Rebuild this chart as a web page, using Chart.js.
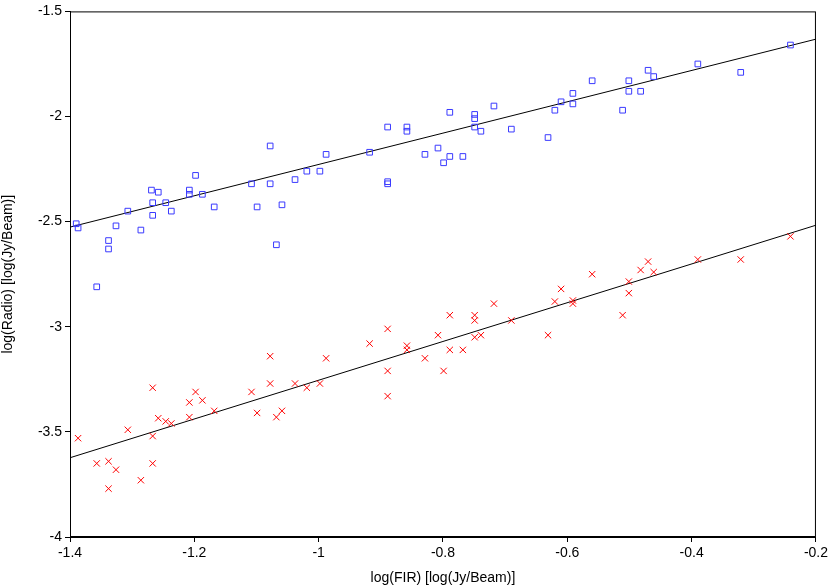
<!DOCTYPE html>
<html><head><meta charset="utf-8">
<script src="https://cdn.jsdelivr.net/npm/chart.js@4"></script>
<style>html,body{margin:0;padding:0;background:#fff}#w{width:831px;height:587px}</style>
</head><body><div id="w"><canvas id="c"></canvas></div>
<script>
const blueX=[-1.39,-1.387,-1.357,-1.338,-1.338,-1.326,-1.307,-1.286,-1.269,-1.267,-1.267,-1.258,-1.246,-1.237,-1.208,-1.208,-1.198,-1.187,-1.168,-1.108,-1.099,-1.078,-1.078,-1.068,-1.059,-1.038,-1.019,-0.998,-0.988,-0.918,-0.889,-0.889,-0.889,-0.858,-0.858,-0.829,-0.808,-0.799,-0.789,-0.789,-0.768,-0.749,-0.749,-0.749,-0.739,-0.718,-0.69,-0.631,-0.62,-0.61,-0.591,-0.591,-0.56,-0.511,-0.501,-0.501,-0.482,-0.47,-0.461,-0.39,-0.321,-0.241];
const blueY=[-2.51,-2.53,-2.81,-2.59,-2.63,-2.52,-2.45,-2.54,-2.35,-2.41,-2.47,-2.36,-2.41,-2.45,-2.35,-2.37,-2.28,-2.37,-2.43,-2.32,-2.43,-2.14,-2.32,-2.61,-2.42,-2.30,-2.26,-2.26,-2.18,-2.17,-2.05,-2.31,-2.32,-2.05,-2.07,-2.18,-2.15,-2.22,-1.98,-2.19,-2.19,-1.99,-2.01,-2.05,-2.07,-1.95,-2.06,-2.10,-1.97,-1.93,-1.89,-1.94,-1.83,-1.97,-1.83,-1.88,-1.88,-1.78,-1.81,-1.75,-1.79,-1.66];
const redX=[-1.387,-1.357,-1.338,-1.338,-1.326,-1.307,-1.286,-1.267,-1.267,-1.267,-1.258,-1.246,-1.237,-1.208,-1.208,-1.198,-1.187,-1.168,-1.108,-1.099,-1.078,-1.078,-1.068,-1.059,-1.038,-1.019,-0.998,-0.988,-0.918,-0.889,-0.889,-0.889,-0.858,-0.858,-0.829,-0.808,-0.799,-0.789,-0.789,-0.768,-0.749,-0.749,-0.749,-0.739,-0.718,-0.69,-0.631,-0.62,-0.61,-0.591,-0.591,-0.56,-0.511,-0.501,-0.501,-0.482,-0.47,-0.461,-0.39,-0.321,-0.241];
const redY=[-3.53,-3.65,-3.64,-3.77,-3.68,-3.49,-3.73,-3.29,-3.52,-3.65,-3.435,-3.45,-3.46,-3.36,-3.43,-3.31,-3.35,-3.40,-3.31,-3.41,-3.14,-3.27,-3.43,-3.40,-3.27,-3.29,-3.27,-3.15,-3.08,-3.01,-3.21,-3.33,-3.09,-3.11,-3.15,-3.04,-3.21,-2.945,-3.11,-3.11,-2.945,-2.97,-3.05,-3.04,-2.89,-2.97,-3.04,-2.88,-2.82,-2.875,-2.89,-2.75,-2.945,-2.785,-2.84,-2.73,-2.69,-2.74,-2.68,-2.68,-2.57];
const blueFitX=[-1.4,-0.2], blueFitY=[-2.526,-1.632];
const redFitX=[-1.4,-0.2], redFitY=[-3.623,-2.517];
const pts=(xs,ys)=>xs.map((x,i)=>({x,y:ys[i]}));
const frame={id:'frame',afterDraw(c){const a=c.chartArea,g=c.ctx;g.save();g.strokeStyle='#000';g.lineWidth=1;g.strokeRect(a.left+0.5,a.top+0.5,a.width-1,a.height-1);g.restore();}};
new Chart(document.getElementById('c'),{
type:'scatter',
data:{datasets:[
{data:pts(blueX,blueY),pointStyle:'rect',radius:4,borderColor:'#3a3aff',backgroundColor:'transparent',borderWidth:1},
{data:pts(redX,redY),pointStyle:'crossRot',radius:4.5,borderColor:'#ff0000',borderWidth:1},
{type:'line',data:pts(blueFitX,blueFitY),borderColor:'#000',borderWidth:1,pointRadius:0},
{type:'line',data:pts(redFitX,redFitY),borderColor:'#000',borderWidth:1,pointRadius:0}
]},
options:{responsive:true,maintainAspectRatio:false,animation:false,
layout:{padding:{left:0,right:12,top:6,bottom:0}},
plugins:{legend:{display:false},tooltip:{enabled:false}},
scales:{
x:{type:'linear',min:-1.4,max:-0.2,border:{color:'#000'},grid:{drawOnChartArea:false,color:'#000',tickLength:5},
 ticks:{stepSize:0.2,color:'#000',font:{family:'Liberation Sans',size:14},callback:v=>String(Math.round(v*10)/10)},
 title:{display:true,text:'log(FIR) [log(Jy/Beam)]',color:'#000',font:{family:'Liberation Sans',size:14},padding:0},
 afterFit(s){s.height=50;}},
y:{type:'linear',min:-4,max:-1.5,border:{color:'#000'},grid:{drawOnChartArea:false,color:'#000',tickLength:5},
 ticks:{stepSize:0.5,color:'#000',font:{family:'Liberation Sans',size:14},callback:v=>String(Math.round(v*10)/10)},
 title:{display:true,text:'log(Radio) [log(Jy/Beam)]',color:'#000',font:{family:'Liberation Sans',size:14},padding:0},
 afterFit(s){s.width=70;}}
}},
plugins:[frame]});
</script></body></html>
